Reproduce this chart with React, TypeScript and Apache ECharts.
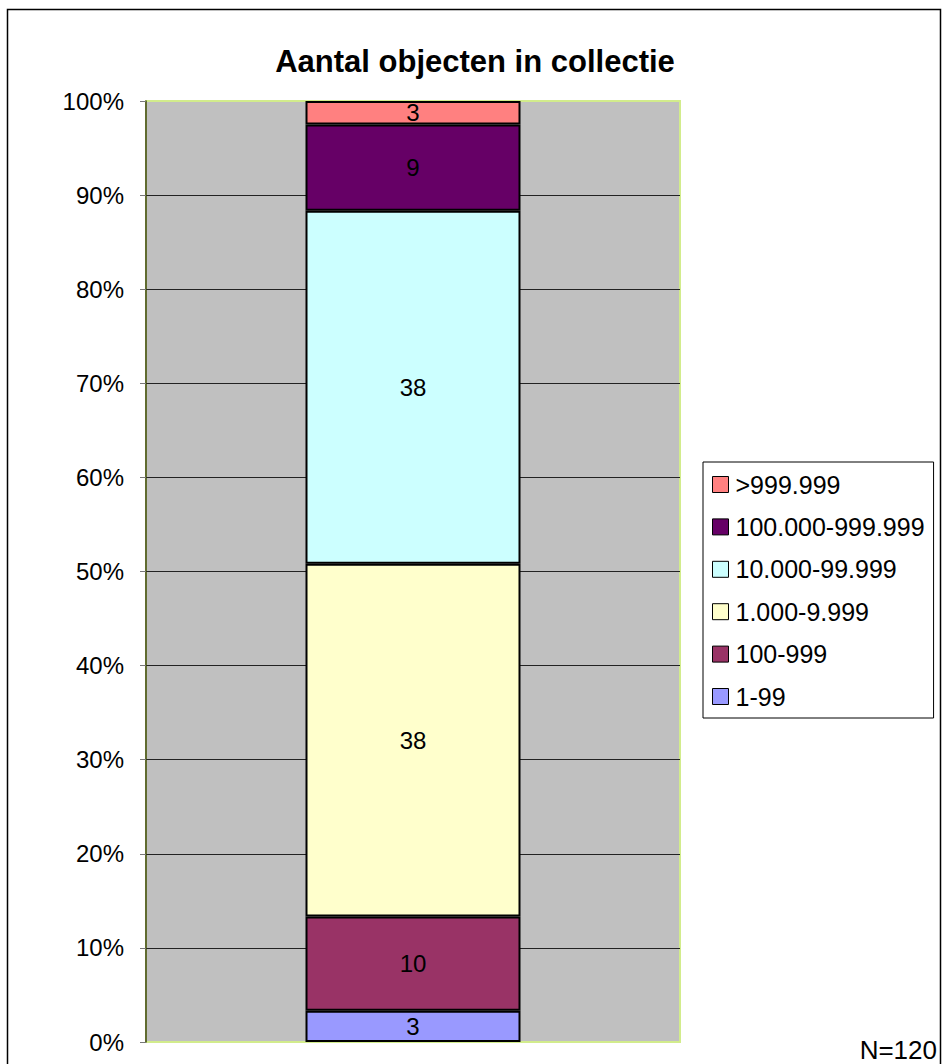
import React, { useEffect, useRef } from "react";
import * as echarts from "echarts";

const title = "Aantal objecten in collectie";
const totalN = 120;
const categories = ["Collectie"];
// bottom to top
const seriesNames = ["1-99", "100-999", "1.000-9.999", "10.000-99.999", "100.000-999.999", ">999.999"];
const seriesCounts = [4, 12, 45, 45, 11, 3];
const seriesColors = ["#9999FF", "#993366", "#FFFFCC", "#CCFFFF", "#660066", "#FF8080"];
const legendOrder = [">999.999", "100.000-999.999", "10.000-99.999", "1.000-9.999", "100-999", "1-99"];

const FONT = "Liberation Sans, Arial, sans-serif";

export default function App() {
  const ref = useRef<HTMLDivElement>(null);
  useEffect(() => {
    if (!ref.current) return;
    const chart = echarts.init(ref.current, undefined, { renderer: "svg" });
    const series = seriesNames.map((name, i) => ({
      name,
      type: "bar",
      stack: "total",
      barWidth: 215,
      data: [(seriesCounts[i] * 100) / totalN],
      itemStyle: { color: seriesColors[i], borderColor: "#000", borderWidth: 2 },
      label: {
        show: true,
        position: "inside",
        color: "#000",
        fontSize: 24,
        fontFamily: FONT,
        formatter: (p: any) => String(Math.round(p.value)),
      },
    }));
    chart.setOption({
      animation: false,
      backgroundColor: "#fff",
      grid: {
        left: 146,
        top: 101,
        width: 534,
        height: 941,
        show: true,
        backgroundColor: "#C0C0C0",
        borderColor: "#D2EC8C",
        borderWidth: 2,
      },
      xAxis: {
        type: "category",
        data: categories,
        axisLine: { show: false },
        axisTick: { show: false },
        axisLabel: { show: false },
        splitLine: { show: false },
      },
      yAxis: {
        type: "value",
        min: 0,
        max: 100,
        interval: 10,
        axisLine: { show: true, lineStyle: { color: "#3a4010", width: 1.5 } },
        axisTick: { show: true, length: 6, lineStyle: { color: "#777" } },
        axisLabel: {
          formatter: "{value}%",
          color: "#000",
          fontSize: 24,
          fontFamily: FONT,
          margin: 22,
        },
        splitLine: {
          show: true,
          showMinLine: false,
          showMaxLine: false,
          lineStyle: { color: "#222", width: 1 },
        },
      },
      legend: {
        data: legendOrder,
        orient: "vertical",
        left: 703,
        top: 462,
        padding: [10, 9, 9, 9],
        itemWidth: 16,
        itemHeight: 16,
        itemGap: 17.4,
        itemStyle: { borderColor: "#000", borderWidth: 1 },
        icon: "rect",
        borderColor: "#000",
        borderWidth: 1,
        textStyle: { color: "#000", fontSize: 25, fontFamily: FONT, lineHeight: 24, padding: [0, 0, 0, 2] },
      },
      graphic: [
        {
          type: "rect",
          shape: { x: 7.5, y: 9.5, width: 933, height: 1100 },
          style: { fill: "none", stroke: "#000", lineWidth: 1.5 },
          silent: true,
        },
        {
          type: "text",
          x: 475,
          y: 61,
          style: {
            text: title,
            fill: "#000",
            font: `bold 31px ${FONT}`,
            textAlign: "center",
            textVerticalAlign: "middle",
          },
        },
        {
          type: "text",
          x: 937,
          y: 1050,
          style: {
            text: "N=" + totalN,
            fill: "#000",
            font: `26px ${FONT}`,
            textAlign: "right",
            textVerticalAlign: "middle",
          },
        },
      ],
      series,
    });
    return () => chart.dispose();
  }, []);
  return (
    <div
      ref={ref}
      style={{ position: "fixed", left: 0, top: 0, width: 944, height: 1064 }}
    />
  );
}
